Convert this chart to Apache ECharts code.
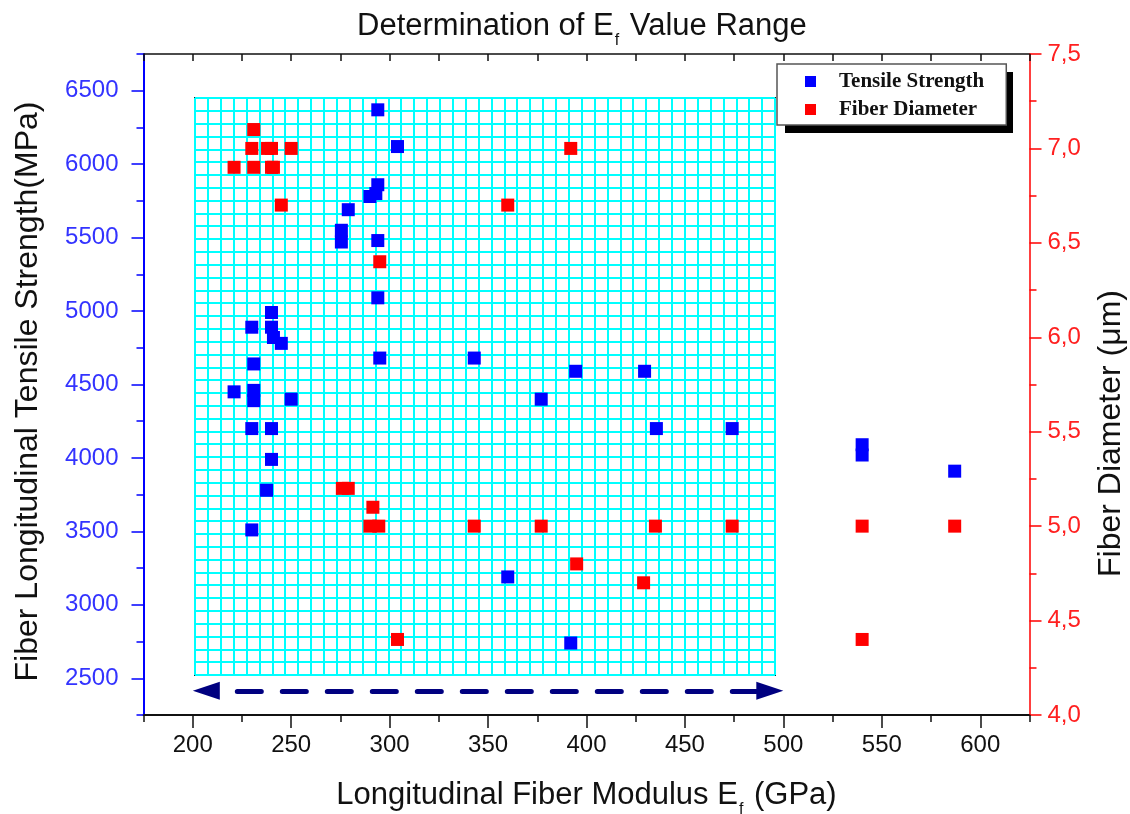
<!DOCTYPE html>
<html lang="en">
    <head>
        <meta charset="UTF-8" />
        <title>Determination of Ef Value Range</title>
        <script src="https://cdn.jsdelivr.net/npm/echarts@6.0.0/dist/echarts.min.js"></script>
        <style>
            html,
            body {
                margin: 0;
                padding: 0;
                background: #fff;
            }
            #chart {
                width: 1130px;
                height: 814px;
            }
        </style>
    </head>
    <body>
        <div id="chart"></div>
        <script>
            // Tensile strength (MPa) against fiber modulus (GPa)
            const strengthModulus = [
                294, 304, 294, 290, 293, 279, 275.5, 275.5, 294, 294, 240, 230,
                240, 241, 245, 295, 231, 221, 231, 231, 250, 230, 240, 240,
                237.5, 230, 343, 394.5, 429.5, 377, 435.5, 474, 540, 540, 587,
                360, 392,
            ];
            const strengthValues = [
                6370, 6120, 5860, 5780, 5800, 5690, 5550, 5470, 5480, 5090,
                4990, 4890, 4890, 4820, 4780, 4680, 4640, 4450, 4460, 4390,
                4400, 4200, 4200, 3990, 3780, 3510, 4680, 4590, 4590, 4400,
                4200, 4200, 4090, 4020, 3910, 3190, 2740,
            ];
            // Fiber diameter (um) against fiber modulus (GPa)
            const diameterModulus = [
                231, 230, 238, 240, 250, 221, 231, 240, 241, 245, 295, 276, 279,
                291.5, 290, 294.5, 304, 392, 360, 343, 377, 395, 435, 429, 474,
                540, 587, 540,
            ];
            const diameterValues = [
                7.1, 7.0, 7.0, 7.0, 7.0, 6.9, 6.9, 6.9, 6.9, 6.7, 6.4, 5.2, 5.2,
                5.1, 5.0, 5.0, 4.4, 7.0, 6.7, 5.0, 5.0, 4.8, 5.0, 4.7, 5.0, 5.0,
                5.0, 4.4,
            ];
            // ticks
            const xMajorTicks = [200, 250, 300, 350, 400, 450, 500, 550, 600];
            const xMinorTicks = [175, 225, 275, 325, 375, 425, 475, 525, 575, 625];
            const topTicks = [
                175, 200, 225, 250, 275, 300, 325, 350, 375, 400, 425, 450, 475,
                500, 525, 550, 575, 600, 625,
            ];
            const leftMajorTicks = [2500, 3000, 3500, 4000, 4500, 5000, 5500, 6000, 6500];
            const leftMinorTicks = [2250, 2750, 3250, 3750, 4250, 4750, 5250, 5750, 6250, 6750];
            const rightMajorTicks = [4.0, 4.5, 5.0, 5.5, 6.0, 6.5, 7.0, 7.5];
            const rightMinorTicks = [4.25, 4.75, 5.25, 5.75, 6.25, 6.75, 7.25];
            // dashed double arrow under the meshed region
            const arrowFrom = [206.9, 2415];
            const arrowTo = [493.1, 2415];

            const font = "Liberation Sans, Arial, sans-serif";
            const pairs = (xs, ys) => xs.map((x, i) => [x, ys[i]]);

            const chart = echarts.init(document.getElementById("chart"));

            const hiddenAxis = {
                axisLine: { show: false },
                axisLabel: { show: false },
                splitLine: { show: false },
            };
            const subStyle = {
                fontFamily: font,
                fontSize: 16,
                color: "#111",
                lineHeight: 17,
                padding: [24, 2, 0, 1],
                verticalAlign: "top",
            };

            const option = {
                animation: false,
                backgroundColor: "#fff",
                title: {
                    text: "Determination of E{sub|f} Value Range",
                    left: 352,
                    top: 4,
                    textStyle: {
                        fontFamily: font,
                        fontSize: 31,
                        fontWeight: "normal",
                        color: "#111",
                        lineHeight: 34,
                        rich: { sub: subStyle },
                    },
                },
                graphic: [
                    {
                        // legend drop shadow
                        type: "rect",
                        z: 3,
                        shape: { x: 785, y: 72, width: 228, height: 61 },
                        style: { fill: "#000" },
                        silent: true,
                    },
                ],
                legend: {
                    orient: "vertical",
                    left: 777,
                    top: 64,
                    padding: [7, 22, 5, 28],
                    itemGap: 7,
                    itemWidth: 11,
                    itemHeight: 11,
                    icon: "rect",
                    backgroundColor: "#fff",
                    borderColor: "#555",
                    borderWidth: 1.5,
                    borderRadius: 0,
                    z: 6,
                    textStyle: {
                        fontFamily: "Liberation Serif, Times New Roman, serif",
                        fontWeight: "bold",
                        fontSize: 21,
                        color: "#111",
                        padding: [0, 0, 0, 18],
                    },
                    data: ["Tensile Strength", "Fiber Diameter"],
                },
                grid: [
                    {
                        left: 143.5,
                        right: 100.5,
                        top: 54,
                        bottom: 99,
                        outerBoundsMode: "none",
                    },
                    {
                        left: 195,
                        top: 98,
                        width: 580,
                        height: 577,
                        outerBoundsMode: "none",
                        show: true,
                        backgroundColor: "#fff",
                        borderColor: "#222",
                        borderWidth: 2,
                    },
                ],
                xAxis: [
                    {
                        type: "value",
                        gridIndex: 0,
                        position: "bottom",
                        min: 175,
                        max: 625,
                        name: "Longitudinal Fiber Modulus E{sub|f} (GPa)",
                        nameLocation: "middle",
                        nameGap: 63,
                        nameTextStyle: {
                            fontFamily: font,
                            fontSize: 31,
                            color: "#111",
                            lineHeight: 34,
                            rich: { sub: subStyle },
                        },
                        axisLine: { lineStyle: { color: "#111", width: 2 } },
                        axisTick: {
                            customValues: xMajorTicks,
                            length: 13,
                            lineStyle: { color: "#111", width: 1.5 },
                        },
                        axisLabel: {
                            customValues: xMajorTicks,
                            margin: 18,
                            fontFamily: font,
                            fontSize: 24,
                            color: "#111",
                        },
                        splitLine: { show: false },
                    },
                    {
                        type: "value",
                        gridIndex: 0,
                        position: "bottom",
                        min: 175,
                        max: 625,
                        ...hiddenAxis,
                        axisTick: {
                            customValues: xMinorTicks,
                            length: 7,
                            lineStyle: { color: "#111", width: 1.5 },
                        },
                    },
                    {
                        type: "value",
                        gridIndex: 0,
                        position: "top",
                        min: 175,
                        max: 625,
                        axisLine: { lineStyle: { color: "#111", width: 1.5 } },
                        axisTick: {
                            customValues: topTicks,
                            inside: true,
                            length: 7,
                            lineStyle: { color: "#111", width: 1.5 },
                        },
                        axisLabel: { show: false },
                        splitLine: { show: false },
                    },
                    {
                        type: "value",
                        gridIndex: 1,
                        min: 0,
                        max: 45,
                        interval: 1,
                        axisLine: { show: false },
                        axisTick: { show: false },
                        axisLabel: { show: false },
                        splitLine: {
                            show: true,
                            lineStyle: { color: "#00ffff", width: 2 },
                        },
                    },
                ],
                yAxis: [
                    {
                        type: "value",
                        gridIndex: 0,
                        position: "left",
                        min: 2250,
                        max: 6750,
                        name: "Fiber Longitudinal Tensile Strength(MPa)",
                        nameLocation: "middle",
                        nameGap: 99,
                        nameTextStyle: {
                            fontFamily: font,
                            fontSize: 32,
                            color: "#111",
                            padding: [0, 14, 0, 0],
                        },
                        axisLine: { lineStyle: { color: "#0000ff", width: 2 } },
                        axisTick: {
                            customValues: leftMajorTicks,
                            length: 12,
                            lineStyle: { color: "#0000ff", width: 1.5 },
                        },
                        axisLabel: {
                            customValues: leftMajorTicks,
                            margin: 25,
                            fontFamily: font,
                            fontSize: 24,
                            color: "#3333ff",
                            formatter: (v) => String(v),
                        },
                        splitLine: { show: false },
                    },
                    {
                        type: "value",
                        gridIndex: 0,
                        position: "right",
                        min: 4,
                        max: 7.5,
                        name: "Fiber Diameter (μm)",
                        nameLocation: "middle",
                        nameGap: 66,
                        nameTextStyle: {
                            fontFamily: font,
                            fontSize: 32,
                            color: "#111",
                            padding: [0, 98, 0, 0],
                        },
                        axisLine: { lineStyle: { color: "#ff0000", width: 1.5 } },
                        axisTick: {
                            customValues: rightMajorTicks,
                            length: 12,
                            lineStyle: { color: "#ff0000", width: 1.5 },
                        },
                        axisLabel: {
                            customValues: rightMajorTicks,
                            margin: 18,
                            fontFamily: font,
                            fontSize: 24,
                            color: "#ff2020",
                            formatter: (v) => v.toFixed(1).replace(".", ","),
                        },
                        splitLine: { show: false },
                    },
                    {
                        type: "value",
                        gridIndex: 0,
                        position: "left",
                        min: 2250,
                        max: 6750,
                        ...hiddenAxis,
                        axisTick: {
                            customValues: leftMinorTicks,
                            length: 7,
                            lineStyle: { color: "#0000ff", width: 1.5 },
                        },
                    },
                    {
                        type: "value",
                        gridIndex: 0,
                        position: "right",
                        min: 4,
                        max: 7.5,
                        ...hiddenAxis,
                        axisTick: {
                            customValues: rightMinorTicks,
                            length: 7,
                            lineStyle: { color: "#ff0000", width: 1.5 },
                        },
                    },
                    {
                        type: "value",
                        gridIndex: 1,
                        min: 0,
                        max: 45,
                        interval: 1,
                        axisLine: { show: false },
                        axisTick: { show: false },
                        axisLabel: { show: false },
                        splitLine: {
                            show: true,
                            lineStyle: { color: "#00ffff", width: 2 },
                        },
                    },
                ],
                series: [
                    {
                        name: "Tensile Strength",
                        type: "scatter",
                        xAxisIndex: 0,
                        yAxisIndex: 0,
                        symbol: "rect",
                        symbolSize: 13,
                        itemStyle: { color: "#0000ff", opacity: 1 },
                        data: pairs(strengthModulus, strengthValues),
                        z: 5,
                        markLine: {
                            silent: true,
                            symbol: ["triangle", "triangle"],
                            symbolSize: [18, 27],
                            label: { show: false },
                            lineStyle: {
                                color: "#000080",
                                width: 5,
                                type: [24, 21],
                                dashOffset: 14,
                                cap: "round",
                            },
                            emphasis: { disabled: true },
                            data: [[{ coord: arrowFrom }, { coord: arrowTo }]],
                        },
                    },
                    {
                        name: "Fiber Diameter",
                        type: "scatter",
                        xAxisIndex: 0,
                        yAxisIndex: 1,
                        symbol: "rect",
                        symbolSize: 13,
                        itemStyle: { color: "#ff0000", opacity: 1 },
                        data: pairs(diameterModulus, diameterValues),
                        z: 5,
                    },
                ],
            };

            chart.setOption(option);
        </script>
    </body>
</html>
